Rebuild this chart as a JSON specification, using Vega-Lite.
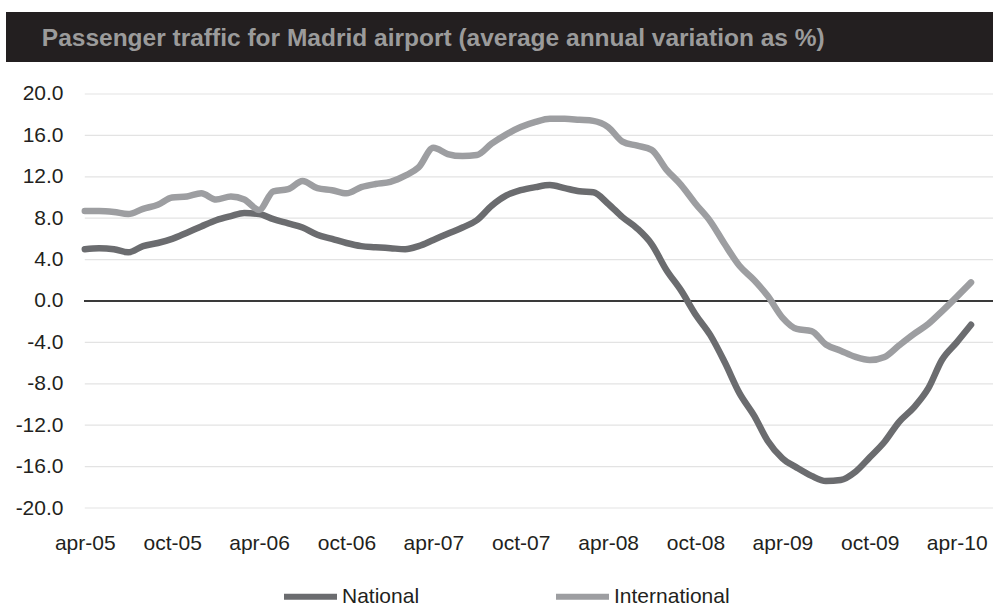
{
  "$schema": "https://vega.github.io/schema/vega-lite/v6.json",
  "background": "white",
  "padding": {"left": 6, "top": 12, "right": 0, "bottom": 0},
  "width": 987,
  "height": 496,
  "config": {"view": {"stroke": null}, "font": "Liberation Sans"},
  "data": {"values": [
    {"date": "2005-04-01", "National": 5.0, "International": 8.7},
    {"date": "2005-05-01", "National": 5.1, "International": 8.7},
    {"date": "2005-06-01", "National": 5.0, "International": 8.6},
    {"date": "2005-07-01", "National": 4.7, "International": 8.4},
    {"date": "2005-08-01", "National": 5.3, "International": 8.9},
    {"date": "2005-09-01", "National": 5.6, "International": 9.3},
    {"date": "2005-10-01", "National": 6.0, "International": 10.0},
    {"date": "2005-11-01", "National": 6.6, "International": 10.1},
    {"date": "2005-12-01", "National": 7.2, "International": 10.4},
    {"date": "2006-01-01", "National": 7.8, "International": 9.8},
    {"date": "2006-02-01", "National": 8.2, "International": 10.1},
    {"date": "2006-03-01", "National": 8.5, "International": 9.8},
    {"date": "2006-04-01", "National": 8.4, "International": 8.8},
    {"date": "2006-05-01", "National": 7.9, "International": 10.6},
    {"date": "2006-06-01", "National": 7.5, "International": 10.8},
    {"date": "2006-07-01", "National": 7.1, "International": 11.6},
    {"date": "2006-08-01", "National": 6.4, "International": 10.9},
    {"date": "2006-09-01", "National": 6.0, "International": 10.7},
    {"date": "2006-10-01", "National": 5.6, "International": 10.4},
    {"date": "2006-11-01", "National": 5.3, "International": 11.0},
    {"date": "2006-12-01", "National": 5.2, "International": 11.3},
    {"date": "2007-01-01", "National": 5.1, "International": 11.5},
    {"date": "2007-02-01", "National": 5.0, "International": 12.1},
    {"date": "2007-03-01", "National": 5.3, "International": 12.9},
    {"date": "2007-04-01", "National": 5.9, "International": 14.8},
    {"date": "2007-05-01", "National": 6.5, "International": 14.2},
    {"date": "2007-06-01", "National": 7.1, "International": 14.0},
    {"date": "2007-07-01", "National": 7.8, "International": 14.1},
    {"date": "2007-08-01", "National": 9.2, "International": 15.2},
    {"date": "2007-09-01", "National": 10.2, "International": 16.1},
    {"date": "2007-10-01", "National": 10.7, "International": 16.8},
    {"date": "2007-11-01", "National": 11.0, "International": 17.3},
    {"date": "2007-12-01", "National": 11.2, "International": 17.6},
    {"date": "2008-01-01", "National": 10.9, "International": 17.6},
    {"date": "2008-02-01", "National": 10.6, "International": 17.5},
    {"date": "2008-03-01", "National": 10.5, "International": 17.4},
    {"date": "2008-04-01", "National": 9.4, "International": 16.8},
    {"date": "2008-05-01", "National": 8.1, "International": 15.4},
    {"date": "2008-06-01", "National": 7.0, "International": 15.0},
    {"date": "2008-07-01", "National": 5.5, "International": 14.6},
    {"date": "2008-08-01", "National": 3.0, "International": 12.7},
    {"date": "2008-09-01", "National": 1.0, "International": 11.2},
    {"date": "2008-10-01", "National": -1.3, "International": 9.4},
    {"date": "2008-11-01", "National": -3.3, "International": 7.7},
    {"date": "2008-12-01", "National": -5.9, "International": 5.5},
    {"date": "2009-01-01", "National": -8.9, "International": 3.4},
    {"date": "2009-02-01", "National": -11.1, "International": 2.0},
    {"date": "2009-03-01", "National": -13.5, "International": 0.5},
    {"date": "2009-04-01", "National": -15.2, "International": -1.6},
    {"date": "2009-05-01", "National": -16.1, "International": -2.7},
    {"date": "2009-06-01", "National": -16.9, "International": -2.9},
    {"date": "2009-07-01", "National": -17.4, "International": -4.2},
    {"date": "2009-08-01", "National": -17.3, "International": -4.8},
    {"date": "2009-09-01", "National": -16.5, "International": -5.4},
    {"date": "2009-10-01", "National": -15.1, "International": -5.7},
    {"date": "2009-11-01", "National": -13.6, "International": -5.4},
    {"date": "2009-12-01", "National": -11.7, "International": -4.3},
    {"date": "2010-01-01", "National": -10.3, "International": -3.2},
    {"date": "2010-02-01", "National": -8.4, "International": -2.2},
    {"date": "2010-03-01", "National": -5.7, "International": -1.0},
    {"date": "2010-04-01", "National": -4.0, "International": 0.4},
    {"date": "2010-05-01", "National": -2.3, "International": 1.8}
  ]},
  "layer": [
    {
      "data": {"values": [{"v": -20}, {"v": -16}, {"v": -12}, {"v": -8}, {"v": -4}, {"v": 4}, {"v": 8}, {"v": 12}, {"v": 16}, {"v": 20}]},
      "mark": {"type": "rule", "color": "#e3e3e3", "strokeWidth": 1.2},
      "encoding": {
        "y": {"field": "v", "type": "quantitative", "scale": {"domain": [-20, 27.92], "nice": false, "zero": false}},
        "x": {"datum": {"year": 2005, "month": 4, "date": 1, "utc": true}, "type": "temporal", "scale": {"type": "utc", "domain": [{"year": 2004, "month": 10, "date": 18, "utc": true}, {"year": 2010, "month": 6, "date": 16, "utc": true}]}},
        "x2": {"datum": {"year": 2010, "month": 6, "date": 16, "utc": true}}
      }
    },
    {
      "mark": {"type": "rule", "color": "#3a3a3a", "strokeWidth": 1.2},
      "encoding": {
        "y": {"datum": 0, "type": "quantitative"},
        "x": {"datum": {"year": 2005, "month": 4, "date": 1, "utc": true}, "type": "temporal"},
        "x2": {"datum": {"year": 2010, "month": 6, "date": 16, "utc": true}}
      }
    },
    {
      "data": {"values": [{"title": "Passenger traffic for Madrid airport (average annual variation as %)"}]},
      "layer": [
        {
          "mark": {"type": "rect", "color": "#231f20"},
          "encoding": {
            "x": {"datum": {"year": 2004, "month": 10, "date": 18, "utc": true}, "type": "temporal"},
            "x2": {"datum": {"year": 2010, "month": 6, "date": 16, "utc": true}},
            "y": {"datum": 23.09, "type": "quantitative"},
            "y2": {"datum": 27.92}
          }
        },
        {
          "mark": {"type": "text", "align": "left", "baseline": "middle", "font": "Liberation Sans", "fontWeight": "bold", "fontSize": 24.5, "color": "#9b9b9b"},
          "encoding": {
            "text": {"field": "title"},
            "x": {"datum": {"year": 2005, "month": 1, "date": 1, "utc": true}, "type": "temporal"},
            "y": {"datum": 25.3, "type": "quantitative"}
          }
        }
      ]
    },
    {
      "transform": [{"fold": ["National", "International"], "as": ["series", "value"]}],
      "mark": {"type": "line", "strokeWidth": 6.5, "strokeJoin": "round", "strokeCap": "round", "interpolate": "monotone"},
      "encoding": {
        "x": {
          "field": "date", "type": "temporal",
          "axis": {
            "title": null, "grid": false, "domain": false, "ticks": false,
            "labelPadding": 24, "labelFontSize": 21, "labelColor": "#231f20",
            "labelOverlap": false, "labelBound": false, "labelFlush": false,
            "values": [
              {"year": 2005, "month": 4, "date": 1, "utc": true},
              {"year": 2005, "month": 10, "date": 1, "utc": true},
              {"year": 2006, "month": 4, "date": 1, "utc": true},
              {"year": 2006, "month": 10, "date": 1, "utc": true},
              {"year": 2007, "month": 4, "date": 1, "utc": true},
              {"year": 2007, "month": 10, "date": 1, "utc": true},
              {"year": 2008, "month": 4, "date": 1, "utc": true},
              {"year": 2008, "month": 10, "date": 1, "utc": true},
              {"year": 2009, "month": 4, "date": 1, "utc": true},
              {"year": 2009, "month": 10, "date": 1, "utc": true},
              {"year": 2010, "month": 4, "date": 1, "utc": true}
            ],
            "labelExpr": "lower(utcFormat(datum.value, '%b-%y'))"
          }
        },
        "y": {
          "field": "value", "type": "quantitative",
          "axis": {
            "title": null, "domain": false, "ticks": false, "grid": false,
            "offset": -79,
            "values": [-20, -16, -12, -8, -4, 0, 4, 8, 12, 16, 20],
            "labelPadding": 22, "labelFontSize": 21, "labelColor": "#231f20",
            "labelOverlap": false,
            "labelExpr": "(datum.value < 0 ? '-' : '') + format(abs(datum.value), '.1f')"
          }
        },
        "color": {
          "field": "series", "type": "nominal",
          "scale": {"domain": ["National", "International"], "range": ["#6b6c6f", "#9d9ea1"]},
          "legend": {
            "title": null, "orient": "none", "direction": "horizontal",
            "legendX": 275, "legendY": 555,
            "symbolType": "stroke", "symbolSize": 2809, "symbolStrokeWidth": 6,
            "labelFontSize": 21, "labelColor": "#231f20", "labelOffset": 2,
            "columnPadding": 124, "labelLimit": 300
          }
        }
      }
    }
  ]
}
